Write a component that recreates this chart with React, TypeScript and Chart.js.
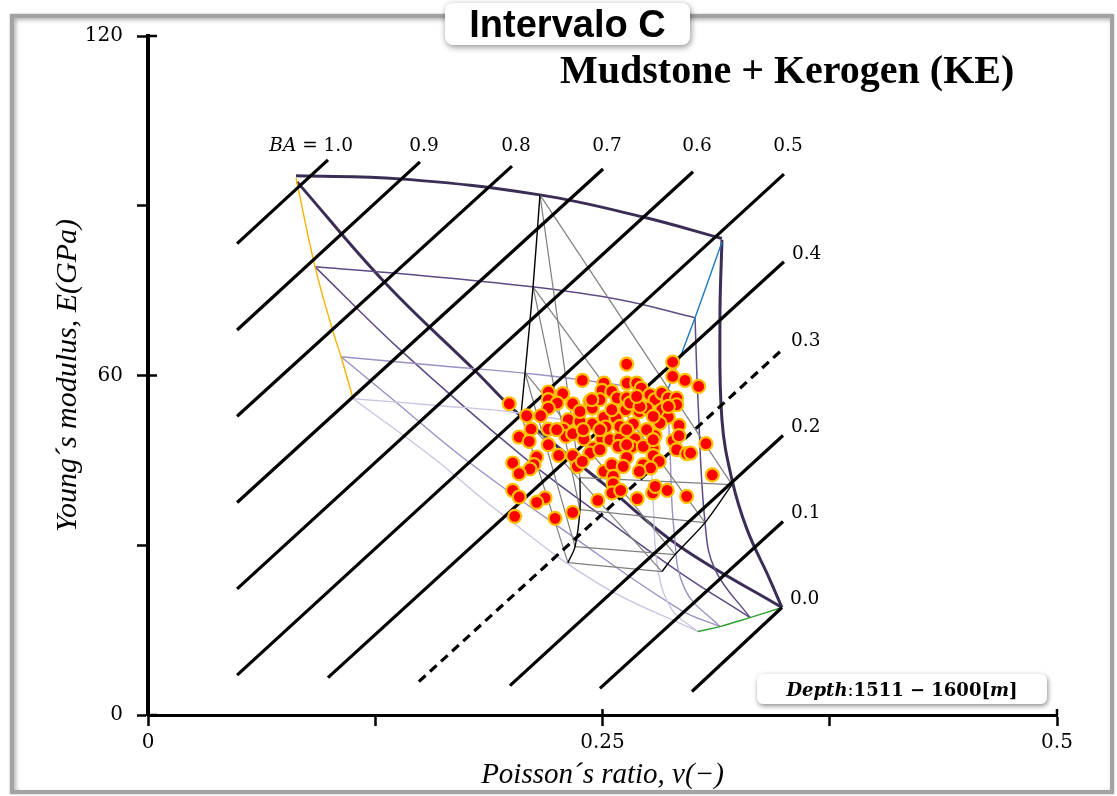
import React, { useEffect, useRef } from 'react';
import { Chart, registerables } from 'chart.js';

Chart.register(...registerables);

// ---- Sample points: Poisson's ratio (-) and Young's modulus (GPa) ----
const poisson = [
  0.2633, 0.2886, 0.2886, 0.2954, 0.3029, 0.2389, 0.2508, 0.2497, 0.2635, 0.2688,
  0.2713, 0.2202, 0.2281, 0.1987, 0.2202, 0.2251, 0.2336, 0.2431, 0.2551, 0.2581,
  0.2633, 0.2679, 0.2761, 0.2789, 0.2826, 0.2862, 0.2908, 0.2908, 0.2202, 0.2444,
  0.2083, 0.216, 0.2508, 0.2628, 0.2702, 0.2743, 0.2826, 0.2862, 0.2312, 0.2376,
  0.2444, 0.2574, 0.2669, 0.2107, 0.2202, 0.2284, 0.2518, 0.2921, 0.2041, 0.2097,
  0.2299, 0.2336, 0.2398, 0.2496, 0.2541, 0.2596, 0.2679, 0.2789, 0.2889, 0.2921,
  0.3069, 0.2202, 0.2449, 0.2587, 0.2661, 0.2779, 0.2908, 0.2963, 0.2985, 0.2138,
  0.2259, 0.2336, 0.2431, 0.2006, 0.2123, 0.2101, 0.2041, 0.2361, 0.2389, 0.2508,
  0.2551, 0.2633, 0.2614, 0.2724, 0.2779, 0.2812, 0.2765, 0.2702, 0.3104, 0.2559,
  0.2559, 0.2006, 0.2042, 0.2184, 0.2138, 0.2552, 0.26, 0.2691, 0.2776, 0.279,
  0.2856, 0.2963, 0.2474, 0.2017, 0.2239, 0.2336,
  0.2651, 0.2706, 0.2486, 0.2376, 0.2596, 0.2743, 0.2816, 0.2633, 0.2486, 0.2248,
  0.2441, 0.2688, 0.2779, 0.2862, 0.2551, 0.2394, 0.2724, 0.2633, 0.2486, 0.2779,
];
const young = [
  62.02, 62.38, 59.83, 59.13, 58.07, 59.13, 58.67, 57.36, 58.67, 58.67,
  57.78, 57.08, 56.78, 55.01, 55.72, 55.13, 55.01, 55.42, 57.18, 56.02,
  56.02, 55.72, 56.6, 55.72, 56.9, 56.02, 56.02, 54.83, 54.25, 54.25,
  52.89, 52.89, 52.59, 53.95, 53.6, 54.25, 53.95, 52.66, 52.19, 51.89,
  51.43, 52.49, 51.43, 50.54, 50.54, 50.54, 50.9, 51.18, 49.13, 48.35,
  49.24, 49.71, 48.78, 48.78, 48.65, 48.95, 48.78, 49.36, 48.48, 49.36,
  47.95, 47.77, 47.19, 47.47, 47.36, 47.19, 46.89, 46.18, 46.3, 45.6,
  45.88, 45.83, 46.3, 44.54, 44.24, 43.48, 42.65, 43.94, 44.82, 43.05,
  44.24, 45.53, 43.94, 44.24, 45.83, 44.82, 43.66, 43.05, 42.42, 42.17,
  40.88, 39.7, 38.53, 38.36, 37.58, 39.24, 39.7, 38.23, 39.24, 40.41,
  39.7, 38.64, 37.93, 35.11, 34.75, 35.81,
  55.13, 54.53, 55.72, 53.65, 51.0, 50.42, 51.6, 50.42, 50.42, 50.42,
  55.72, 56.3, 52.77, 54.53, 53.95, 50.42, 47.47, 47.77, 46.89, 48.65,
];

// ---- Brittleness-average (BA) iso-lines ----
const baLabels = ['1.0', '0.9', '0.8', '0.7', '0.6', '0.5', '0.4', '0.3', '0.2', '0.1', '0.0'];
const baStartNu = [0.049, 0.049, 0.049, 0.049, 0.049, 0.049, 0.099, 0.149, 0.1991, 0.2486, 0.2992];
const baStartE = [83.3, 68.05, 52.8, 37.55, 22.3, 7.05, 6.6, 5.9, 5.2, 4.7, 4.15];
const baEndNu = [0.099, 0.1496, 0.2002, 0.2503, 0.2998, 0.3498, 0.3498, 0.3493, 0.3493, 0.3493, 0.3487];
const baEndE = [98.1, 97.75, 97.0, 96.5, 96.0, 95.6, 80.1, 64.7, 49.4, 34.2, 19.0];
const baDashed = '0.3';
const baTopLabelE = 100.5;

// ---- Mudstone + kerogen template (purple family) ----
const kerogenShades = ['#3b2d55', '#5e4b85', '#9d90c3', '#cdc4e2'];
const kerogenWidths = [3, 1.5, 1.4, 1.4];
const rowCurves = [
  [[0.0814, 95.28], [0.1386, 94.75], [0.2156, 91.92], [0.2723, 88.0], [0.3157, 84.2]],
  [[0.0919, 79.2], [0.1331, 78.15], [0.2112, 75.67], [0.2596, 73.38], [0.3009, 70.2]],
  [[0.1062, 63.31], [0.1606, 61.72], [0.2156, 60.13], [0.2855, 57.13]],
  [[0.1128, 55.89], [0.1606, 54.66], [0.203, 53.42], [0.2761, 49.54]],
];
const colCurves = [
  [[0.3157, 84.0], [0.3146, 69.85], [0.3157, 52.2], [0.3212, 41.6], [0.3295, 32.8], [0.3421, 23.9], [0.3487, 19.0]],
  [[0.3009, 70.2], [0.3025, 55.72], [0.3064, 34.0], [0.3119, 25.7], [0.3311, 17.22]],
  [[0.2855, 57.13], [0.2871, 46.89], [0.2893, 32.76], [0.2954, 22.16], [0.3146, 15.63]],
  [[0.2761, 49.54], [0.2778, 38.06], [0.2805, 25.7], [0.2882, 18.63], [0.3025, 14.75]],
];
const diagCurves = [
  [[0.082, 94.22], [0.1304, 76.38], [0.181, 60.49], [0.203, 53.42], [0.2525, 40.35], [0.2926, 29.76], [0.3487, 19.0]],
  [[0.0919, 79.2], [0.1386, 64.57], [0.2063, 45.65], [0.2486, 35.41], [0.2926, 25.17], [0.3311, 17.22]],
  [[0.1062, 63.31], [0.1348, 55.72], [0.1733, 45.47], [0.2321, 31.88], [0.2926, 18.63], [0.3146, 15.63]],
  [[0.1128, 55.89], [0.1568, 45.47], [0.1936, 35.76], [0.2486, 23.05], [0.3025, 14.75]],
];
const yellowEdge = [[0.0814, 94.92], [0.0919, 79.2], [0.1018, 67.73], [0.1062, 63.31], [0.1128, 55.89]];
const blueEdge = [[0.3157, 83.6], [0.3009, 70.2], [0.2855, 57.13], [0.2761, 49.54]];
const greenEdge = [[0.3025, 14.75], [0.3146, 15.63], [0.3311, 17.22], [0.3487, 19.0]];

// ---- Inner template (gray / black) ----
const innerTop = [[0.2156, 91.92], [0.2118, 75.67], [0.2074, 60.49], [0.2052, 53.07]];
const innerLeft = [[0.2376, 41.94], [0.2376, 36.29], [0.2349, 29.76], [0.231, 26.93]];
const innerRight = [[0.3212, 40.71], [0.3064, 34.0], [0.2899, 28.34], [0.2827, 25.34]];

const xMajor = [0, 0.25, 0.5];
const yMajor = [0, 60, 120];

const toXY = (pts: number[][]) => pts.map(([x, y]) => ({ x, y }));

export default function App() {
  const canvasRef = useRef<HTMLCanvasElement | null>(null);

  useEffect(() => {
    document.body.style.margin = '0';
    const canvas = canvasRef.current;
    if (!canvas) return;

    const datasets: any[] = [];
    const addLine = (pts: number[][], color: string, width: number, order: number, tension = 0.4, dash: number[] = []) => {
      datasets.push({
        data: toXY(pts),
        showLine: true,
        borderColor: color,
        backgroundColor: color,
        borderWidth: width,
        pointRadius: 0,
        pointHoverRadius: 0,
        tension,
        borderDash: dash,
        fill: false,
        order,
      });
    };

    // scatter on top
    datasets.push({
      data: poisson.map((v, i) => ({ x: v, y: young[i] })),
      showLine: false,
      pointRadius: 6.5,
      pointBorderWidth: 2.2,
      pointBackgroundColor: '#ff0000',
      pointBorderColor: '#ffc000',
      order: 0,
    });

    baLabels.forEach((lab, i) => {
      addLine([[baStartNu[i], baStartE[i]], [baEndNu[i], baEndE[i]]], '#000000', 3.2, 1, 0, lab === baDashed ? [9, 6] : []);
    });

    for (let i = 0; i < 4; i++) {
      addLine([innerTop[i], innerLeft[i]], '#7f7f7f', 1.2, 3, 0);
      addLine([innerTop[i], innerRight[i]], '#7f7f7f', 1.2, 3, 0);
      addLine([innerLeft[i], innerRight[i]], '#7f7f7f', 1.2, 3, 0);
    }
    addLine(innerTop, '#000000', 1.4, 2, 0.3);
    addLine(innerLeft, '#000000', 1.4, 2, 0.3);
    addLine(innerRight, '#000000', 1.4, 2, 0.3);

    for (let i = 3; i >= 0; i--) {
      addLine(rowCurves[i], kerogenShades[i], kerogenWidths[i], 9 - i, 0.4);
      addLine(colCurves[i], kerogenShades[i], kerogenWidths[i], 9 - i, 0.4);
      addLine(diagCurves[i], kerogenShades[i], kerogenWidths[i], 9 - i, 0.4);
    }
    addLine(yellowEdge, '#f5b400', 1.4, 4, 0.4);
    addLine(blueEdge, '#1f78c1', 1.4, 4, 0.2);
    addLine(greenEdge, '#2ca02c', 1.4, 4, 0.4);

    const innerTicks = {
      id: 'innerTicks',
      afterDraw(chart: any) {
        const { ctx, chartArea, scales } = chart;
        ctx.save();
        ctx.strokeStyle = '#000';
        ctx.lineWidth = 2.5;
        yMajor.forEach((v) => {
          const py = scales.y.getPixelForValue(v);
          ctx.beginPath();
          ctx.moveTo(chartArea.left, py);
          ctx.lineTo(chartArea.left + 9, py);
          ctx.stroke();
        });
        xMajor.forEach((v) => {
          const px = scales.x.getPixelForValue(v);
          ctx.beginPath();
          ctx.moveTo(px, chartArea.bottom);
          ctx.lineTo(px, chartArea.bottom - 6);
          ctx.stroke();
        });
        ctx.restore();
      },
    };

    const baText = {
      id: 'baText',
      afterDatasetsDraw(chart: any) {
        const { ctx, scales } = chart;
        ctx.save();
        ctx.fillStyle = '#000';
        ctx.textBaseline = 'middle';
        const f = '18.5px "DejaVu Serif"';
        const topY = scales.y.getPixelForValue(baTopLabelE);
        baLabels.forEach((lab, i) => {
          const px = scales.x.getPixelForValue(baEndNu[i]);
          const py = scales.y.getPixelForValue(baEndE[i]);
          if (i === 0) {
            ctx.font = f;
            const rest = ' = ' + lab;
            const wRest = ctx.measureText(rest).width;
            ctx.font = 'italic ' + f;
            const wBA = ctx.measureText('BA').width;
            const start = px + 25 - wRest - wBA;
            ctx.textAlign = 'left';
            ctx.fillText('BA', start, topY);
            ctx.font = f;
            ctx.fillText(rest, start + wBA, topY);
          } else if (i <= 5) {
            ctx.font = f;
            ctx.textAlign = 'center';
            ctx.fillText(lab, px + 4, topY);
          } else {
            ctx.font = f;
            ctx.textAlign = 'left';
            ctx.fillText(lab, px + 8, py - 8);
          }
        });
        ctx.restore();
      },
    };

    const chart = new Chart(canvas, {
      type: 'scatter',
      data: { datasets },
      options: {
        responsive: false,
        animation: false,
        events: [],
        layout: { padding: { left: 0, right: 60, top: 36, bottom: 3 } },
        plugins: { legend: { display: false }, tooltip: { enabled: false } },
        scales: {
          x: {
            type: 'linear',
            min: 0,
            max: 0.5,
            afterFit: (s: any) => { s.height = 78; },
            border: { display: true, color: '#000', width: 3 },
            grid: { display: true, drawOnChartArea: false, drawTicks: true, tickLength: 11, tickWidth: 2.5, tickColor: '#000' },
            ticks: {
              stepSize: 0.125,
              autoSkip: false,
              maxRotation: 0,
              padding: 5,
              color: '#000',
              font: { family: 'DejaVu Serif', size: 20 },
              callback: (v: any) => (xMajor.includes(Number(v)) ? String(Number(v)) : ''),
            },
            title: {
              display: true,
              text: 'Poisson´s ratio, v(−)',
              color: '#000',
              font: { family: 'Liberation Serif', style: 'italic', size: 29 },
              padding: { top: 0, bottom: 0 },
            },
          },
          y: {
            type: 'linear',
            min: 0,
            max: 120,
            afterFit: (s: any) => { s.width = 148; },
            border: { display: true, color: '#000', width: 4 },
            grid: { display: true, drawOnChartArea: false, drawTicks: true, tickLength: 11, tickWidth: 2.5, tickColor: '#000' },
            ticks: {
              stepSize: 30,
              autoSkip: false,
              padding: 14,
              color: '#000',
              font: { family: 'DejaVu Serif', size: 20 },
              callback: (v: any) => (yMajor.includes(Number(v)) ? String(Number(v)) : ''),
            },
            title: {
              display: true,
              text: 'Young´s modulus, E(GPa)',
              color: '#000',
              font: { family: 'Liberation Serif', style: 'italic', size: 30 },
              padding: { top: 50, bottom: 0 },
            },
          },
        },
      },
      plugins: [innerTicks, baText],
    } as any);

    return () => chart.destroy();
  }, []);

  return (
    <div style={{ position: 'relative', width: 1117, height: 796, overflow: 'hidden', background: '#fff' }}>
      <div
        style={{
          position: 'absolute', left: 10, top: 14, width: 1104, height: 780, boxSizing: 'border-box',
          border: '4px solid #a3a3a3', boxShadow: 'inset 2px 2px 4px rgba(0,0,0,0.3), 0 0 2px rgba(0,0,0,0.3)',
          background: '#fff',
        }}
      />
      <canvas ref={canvasRef} width={1117} height={796} style={{ position: 'absolute', left: 0, top: 0, width: 1117, height: 796 }} />
      <div
        style={{
          position: 'absolute', left: 445, top: 3, width: 245, height: 42, background: '#fff', borderRadius: 8,
          boxShadow: '1px 2px 6px rgba(0,0,0,0.45)', display: 'flex', alignItems: 'center', justifyContent: 'center',
          fontFamily: '"Liberation Sans Narrow", "Liberation Sans", Arial, sans-serif', fontWeight: 'bold', fontSize: 38, color: '#000', lineHeight: '42px',
        }}
      >
        Intervalo C
      </div>
      <div
        style={{
          position: 'absolute', left: 560, top: 50, fontFamily: '"Liberation Serif", "Times New Roman", serif',
          fontWeight: 'bold', fontSize: 40, lineHeight: '40px', color: '#000', whiteSpace: 'nowrap',
        }}
      >
        Mudstone + Kerogen (KE)
      </div>
      <div
        style={{
          position: 'absolute', left: 757, top: 674, width: 290, height: 30, background: '#fff', borderRadius: 6,
          boxShadow: '1px 2px 5px rgba(0,0,0,0.45)', display: 'flex', alignItems: 'center', justifyContent: 'center',
          fontFamily: '"DejaVu Serif", serif', fontWeight: 'bold', fontSize: 18, color: '#000', whiteSpace: 'nowrap',
        }}
      >
        <span style={{ fontStyle: 'italic' }}>Depth</span>
        <span style={{ fontWeight: 'normal' }}>:</span>
        <span>1511 − 1600[</span>
        <span style={{ fontStyle: 'italic' }}>m</span>
        <span>]</span>
      </div>
    </div>
  );
}
